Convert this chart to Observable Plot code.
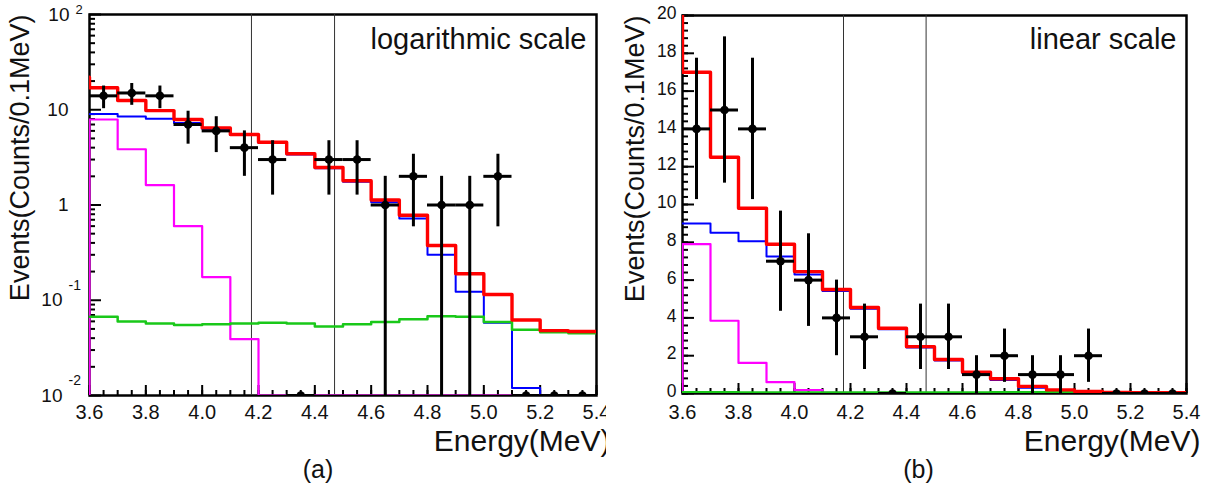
<!DOCTYPE html>
<html><head><meta charset="utf-8">
<script src="https://cdn.jsdelivr.net/npm/d3@7"></script>
<script src="https://cdn.jsdelivr.net/npm/@observablehq/plot@0.6"></script>
<style>
body{margin:0;background:#fff;}
#wrap{position:relative;width:1213px;height:495px;overflow:hidden;background:#fff;}
#wrap svg{position:absolute;top:0;font-family:"Liberation Sans",Arial,sans-serif;}
</style></head><body><div id="wrap"></div>
<script>
// ---- data ----
const binLow    = [3.6,3.7,3.8,3.9,4.0,4.1,4.2,4.3,4.4,4.5,4.6,4.7,4.8,4.9,5.0,5.1,5.2,5.3];
const binHigh   = 5.4;
const binCenter = [3.65,3.75,3.85,3.95,4.05,4.15,4.25,4.35,4.45,4.55,4.65,4.75,4.85,4.95,5.05,5.15,5.25,5.35];
const dataCounts = [14,15,14,7,6,4,3,0,3,3,1,2,1,1,2,0,0,0];
const dataErr    = [3.74,3.87,3.74,2.65,2.45,2.0,1.73,0,1.73,1.73,1.0,1.41,1.0,1.0,1.41,0,0,0];
const totalFit   = [17.0,12.5,9.8,7.9,6.45,5.5,4.55,3.45,2.48,1.8,1.13,0.78,0.375,0.19,0.115,0.062,0.048,0.047]; // red
const mainBkg    = [9.0,8.5,8.05,7.25,6.3,5.42,4.48,3.4,2.43,1.75,1.07,0.72,0.30,0.123,0.058,0.012,0,0];      // blue
const flatBkg    = [0.067,0.060,0.057,0.055,0.056,0.057,0.058,0.057,0.053,0.056,0.059,0.063,0.068,0.067,0.059,0.049,0.046,0.045]; // green
const fastBkg    = [7.9,3.85,1.62,0.6,0.175,0.039,0,0,0,0,0,0,0,0,0,0,0,0]; // magenta
const totalStart = 22;   // value of previous bin, seen at left edge
const fastStart  = 0;
const cutLines   = [4.175, 4.47];
const xLabelTicks = [3.6,3.8,4.0,4.2,4.4,4.6,4.8,5.0,5.2,5.4];
const linTicks    = [0,2,4,6,8,10,12,14,16,18,20];
const logTickVals = [100,10,1,0.1,0.01];
const logTickBase = ["10","10","1","10","10"];
const logTickExp  = ["2","","","-1","-2"];
const yTitle = "Events(Counts/0.1MeV)";
const xTitle = "Energy(MeV)";

// ---- helpers ----
function steps(vals, start) {
  const pts = [];
  if (start !== undefined) pts.push({x: binLow[0], v: start});
  vals.forEach((v, i) => pts.push({x: binLow[i], v}));
  pts.push({x: binHigh, v: vals[vals.length - 1]});
  return pts;
}
const xMinor = d3.range(3.6, 5.4001, 0.05);
const logMinor = [];
[0.01, 0.1, 1, 10].forEach(d => { for (let k = 2; k <= 9; k++) logMinor.push(d * k); });
const linMinor = d3.range(0, 20.001, 0.4);
const FONT = "Liberation Sans, Arial, sans-serif";

function panel(cfg) {
  const fy = cfg.log ? (v => Math.max(v, 0.01)) : (v => v);
  const pts = binCenter.map((c, i) => ({c, v: dataCounts[i], e: dataErr[i]}));
  const line = (vals, start, color, w) =>
    Plot.line(steps(vals, start), {x: "x", y: d => fy(d.v), curve: "step-after", stroke: color, strokeWidth: w, clip: true});
  const marks = [
    Plot.frame({stroke: "black", strokeWidth: 2.5}),
    Plot.ruleX(cutLines, {x: d => d, stroke: "#333", strokeWidth: 1}),
    // x ticks (inward)
    Plot.axisX({ticks: xMinor, tickSize: -5, strokeWidth: 2, tickFormat: () => "", label: null}),
    Plot.axisX({ticks: xLabelTicks, tickSize: -10, strokeWidth: 2, tickFormat: () => "", label: null}),
    Plot.axisX({ticks: xLabelTicks, tickSize: 0, tickPadding: cfg.xPad, tickFormat: d => d.toFixed(1), fontSize: 20, fill: "#111", label: null}),
  ];
  if (cfg.log) {
    const labs = logTickVals.map((v, i) => ({v, base: logTickBase[i], exp: logTickExp[i]}));
    marks.push(
      Plot.axisY({ticks: logTickVals, tickSize: -12, strokeWidth: 2, tickFormat: () => "", label: null}),
      Plot.axisY({ticks: logMinor, tickSize: -6, strokeWidth: 2, tickFormat: () => "", label: null}),
      Plot.text(labs.filter(d => d.exp === ""), {y: "v", text: "base", frameAnchor: "left", textAnchor: "end", dx: -21, fontSize: 19, fill: "#111"}),
      Plot.text(labs.filter(d => d.exp !== "" && d.exp[0] !== "-"), {y: "v", text: "base", frameAnchor: "left", textAnchor: "end", dx: -20, fontSize: 19, fill: "#111"}),
      Plot.text(labs.filter(d => d.exp !== "" && d.exp[0] !== "-"), {y: "v", text: "exp", frameAnchor: "left", textAnchor: "start", dx: -14, dy: -5, fontSize: 13, fill: "#111"}),
      Plot.text(labs.filter(d => d.exp[0] === "-"), {y: "v", text: "base", frameAnchor: "left", textAnchor: "end", dx: -27, fontSize: 19, fill: "#111"}),
      Plot.text(labs.filter(d => d.exp[0] === "-"), {y: "v", text: "exp", frameAnchor: "left", textAnchor: "start", dx: -21, dy: -15, fontSize: 14, fill: "#111"})
    );
  } else {
    marks.push(
      Plot.axisY({ticks: linTicks, tickSize: -12, strokeWidth: 2, tickFormat: () => "", label: null}),
      Plot.axisY({ticks: linMinor, tickSize: -6, strokeWidth: 2, tickFormat: () => "", label: null}),
      Plot.axisY({ticks: linTicks, tickSize: 0, tickPadding: 6, dy: -2, tickFormat: d => String(d), fontSize: 17.5, fill: "#111", label: null})
    );
  }
  marks.push(
    line(mainBkg, undefined, "#0000ff", 2),
    line(fastBkg, fastStart, "#ff00ff", 2.2),
    line(flatBkg, undefined, "#19c819", 2.5),
    line(totalFit, totalStart, "#ff0000", 3.4),
    Plot.ruleX(pts, {x: "c", y1: d => fy(d.v - d.e), y2: d => fy(d.v + d.e), stroke: "black", strokeWidth: 3, clip: true}),
    Plot.ruleY(pts, {y: d => fy(d.v), x1: d => d.c - 0.05, x2: d => d.c + 0.05, stroke: "black", strokeWidth: 3, clip: true}),
    Plot.dot(pts, {x: "c", y: d => fy(d.v), r: 4.3, fill: "black", stroke: "none", clip: true}),
    // titles
    Plot.text([yTitle], {frameAnchor: "top-left", rotate: -90, textAnchor: "end", text: d => d, dx: cfg.yTitleDx, dy: 0, fontSize: 27, fill: "#111"}),
    Plot.text([xTitle], {frameAnchor: "bottom-right", textAnchor: "end", lineAnchor: "top", text: d => d, dx: 14, dy: cfg.xTitleDy, fontSize: 30, fill: "#111"}),
    Plot.text([cfg.tag], {frameAnchor: "top-right", textAnchor: "end", lineAnchor: "top", text: d => d, dx: -10, dy: cfg.tagDy, fontSize: 29, fill: "#111"}),
    Plot.text([cfg.letter], {frameAnchor: "bottom", lineAnchor: "top", text: d => d, dx: cfg.letterDx, dy: cfg.letterDy, fontSize: 25, fill: "#111"})
  );
  const svg = Plot.plot({
    width: cfg.width, height: 495,
    marginLeft: cfg.ml, marginRight: cfg.mr, marginTop: cfg.mt, marginBottom: cfg.mb,
    style: {fontFamily: FONT, background: "white", overflow: "visible"},
    x: {domain: [3.6, 5.4]},
    y: cfg.log ? {type: "log", domain: [0.01, 100]} : {type: "linear", domain: [0, 20]},
    marks
  });
  svg.style.left = cfg.left + "px";
  return svg;
}

const wrap = document.getElementById("wrap");
wrap.appendChild(panel({log: true, left: 0, width: 606, ml: 89, mr: 10, mt: 14, mb: 100,
  xPad: 9, xTitleDy: 34, yTitleDx: -80, tag: "logarithmic scale", tagDy: 14, letter: "(a)", letterDx: -25, letterDy: 65}));
wrap.appendChild(panel({log: false, left: 606, width: 607, ml: 76, mr: 27, mt: 15, mb: 102,
  xPad: 11, xTitleDy: 36, yTitleDx: -58, tag: "linear scale", tagDy: 13, letter: "(b)", letterDx: -16, letterDy: 67}));
</script></body></html>
